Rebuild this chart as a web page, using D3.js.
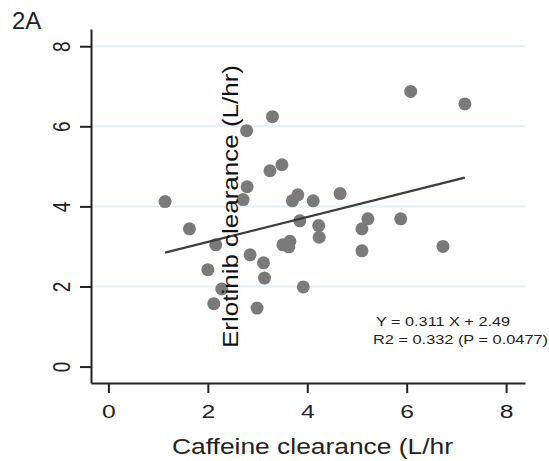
<!DOCTYPE html>
<html>
<head>
<meta charset="utf-8">
<script src="https://cdn.jsdelivr.net/npm/d3@7"></script>
<style>
  body { margin: 0; background: #fff; }
  svg { display: block; font-family: "Liberation Sans", Arial, sans-serif; }
  .grid line { stroke: #e6eff1; stroke-width: 2; }
  .axis path, .axis line { stroke: #222; stroke-width: 2; }
  .axis text { fill: #222; }
</style>
</head>
<body>
<div id="chart"></div>
<script>
// Figure 2A: erlotinib clearance vs caffeine clearance

const WIDTH = 549;
const HEIGHT = 461;

// (L/hr)
const caffeine = [
  1.14, 1.63, 2.16, 2.00, 2.28, 2.12, 2.85, 3.12, 3.14, 2.99,
  2.78, 2.79, 2.71, 3.30, 3.25, 3.49, 3.70, 3.81, 4.12, 4.66,
  3.85, 4.23, 4.24, 5.10, 5.22, 5.10, 3.51, 3.65, 3.63, 3.92,
  6.08, 7.17, 5.88, 6.73
];
const erlotinib = [
  4.12, 3.44, 3.04, 2.42, 1.94, 1.57, 2.79, 2.59, 2.21, 1.46,
  5.89, 4.49, 4.17, 6.24, 4.89, 5.04, 4.14, 4.29, 4.14, 4.32,
  3.64, 3.52, 3.23, 3.44, 3.69, 2.89, 3.04, 3.13, 2.99, 1.99,
  6.87, 6.56, 3.69, 3.00
];

const xTicks = [0, 2, 4, 6, 8];
const yTicks = [0, 2, 4, 6, 8];
const fit = { slope: 0.311, intercept: 2.49 };
const fitLabels = ["Y = 0.311 X + 2.49", "R2 = 0.332 (P = 0.0477)"];
const panelLabel = "2A";
const xTitle = "Caffeine clearance (L/hr";
const yTitle = "Erlotinib clearance (L/hr)";

const data = caffeine.map((x, i) => ({ x, y: erlotinib[i] }));

const x = d3.scaleLinear().domain([-0.35, 8.38]).range([91, 525]);
const y = d3.scaleLinear().domain([-0.41, 8.43]).range([383, 29]);

const svg = d3.select("#chart")
  .append("svg")
  .attr("width", WIDTH)
  .attr("height", HEIGHT);

// horizontal gridlines
svg.append("g")
  .attr("class", "grid")
  .selectAll("line")
  .data(yTicks.filter((d) => d > 0))
  .join("line")
  .attr("x1", x.range()[0])
  .attr("x2", x.range()[1])
  .attr("y1", (d) => y(d))
  .attr("y2", (d) => y(d));

// axes
const gx = svg.append("g")
  .attr("class", "axis")
  .attr("transform", `translate(0,${y.range()[0]})`)
  .call(d3.axisBottom(x).tickValues(xTicks).tickSize(10).tickSizeOuter(0));

gx.selectAll("text")
  .attr("y", 0)
  .attr("dy", 0)
  .attr("text-anchor", "middle")
  .attr("font-size", 19)
  .attr("transform", "translate(0,35) scale(1.3,1)");

const gy = svg.append("g")
  .attr("class", "axis")
  .attr("transform", `translate(${x.range()[0]},0)`)
  .call(d3.axisLeft(y).tickValues(yTicks).tickSize(11).tickSizeOuter(0));

gy.selectAll("text")
  .attr("x", 0)
  .attr("dy", 0)
  .attr("text-anchor", "middle")
  .attr("font-size", 19)
  .attr("transform", "translate(-21,0) scale(1.3,1) rotate(-90)");

// points
svg.append("g")
  .selectAll("circle")
  .data(data)
  .join("circle")
  .attr("cx", (d) => x(d.x))
  .attr("cy", (d) => y(d.y))
  .attr("r", 6.5)
  .attr("fill", "#7a7a7a");

// fitted line over the range of the data
const xr = d3.extent(data, (d) => d.x);
svg.append("line")
  .attr("x1", x(xr[0]))
  .attr("y1", y(fit.slope * xr[0] + fit.intercept))
  .attr("x2", x(xr[1]))
  .attr("y2", y(fit.slope * xr[1] + fit.intercept))
  .attr("stroke", "#3c3c3c")
  .attr("stroke-width", 2.2);

// titles (y title sits over the data, as in the original)
svg.append("text")
  .attr("x", 172)
  .attr("y", 454)
  .attr("font-size", 22)
  .attr("fill", "#222")
  .attr("textLength", 281)
  .attr("lengthAdjust", "spacingAndGlyphs")
  .text(xTitle);

svg.append("text")
  .attr("transform", "translate(238,348) scale(1.2,1) rotate(-90)")
  .attr("font-size", 19)
  .attr("fill", "#111")
  .attr("textLength", 283)
  .attr("lengthAdjust", "spacingAndGlyphs")
  .text(yTitle);

svg.append("text")
  .attr("x", 12)
  .attr("y", 29)
  .attr("font-size", 24)
  .attr("fill", "#222")
  .text(panelLabel);

// fit annotation
svg.append("g")
  .selectAll("text")
  .data(fitLabels)
  .join("text")
  .attr("x", (d, i) => (i === 0 ? 376 : 373))
  .attr("y", (d, i) => (i === 0 ? 326 : 343.5))
  .attr("font-size", 13.5)
  .attr("fill", "#222")
  .attr("textLength", (d, i) => (i === 0 ? 134 : 175))
  .attr("lengthAdjust", "spacingAndGlyphs")
  .text((d) => d);
</script>
</body>
</html>
